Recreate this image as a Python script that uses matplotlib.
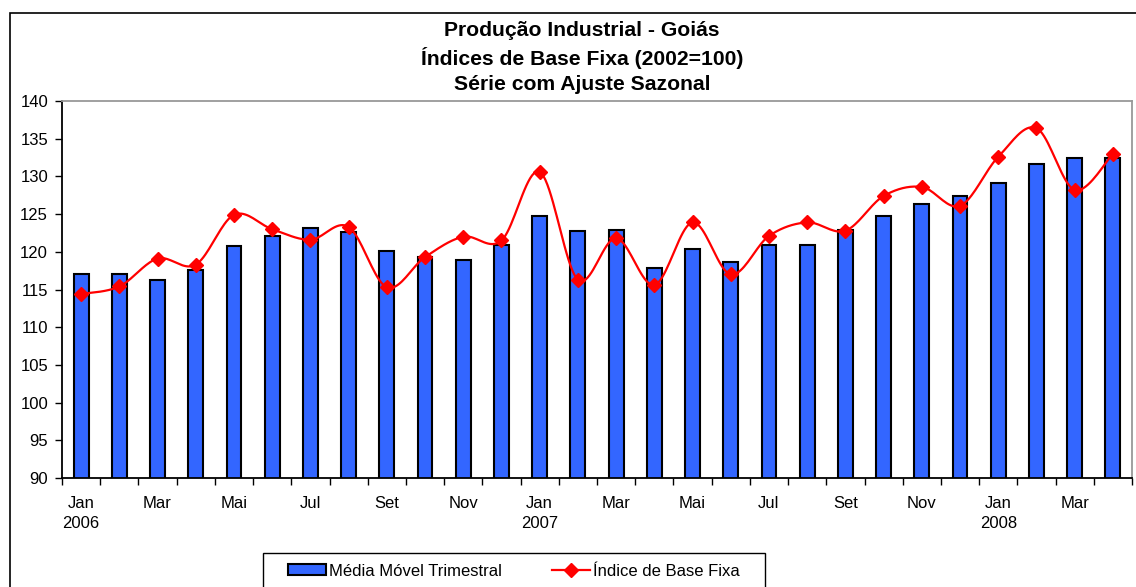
import numpy as np
import matplotlib
matplotlib.use("Agg")
import matplotlib.pyplot as plt
from matplotlib.patches import Rectangle
from matplotlib.lines import Line2D

plt.rcParams['font.family'] = ['Liberation Sans', 'DejaVu Sans']

months = ["Jan", "Fev", "Mar", "Abr", "Mai", "Jun", "Jul", "Ago", "Set", "Out", "Nov", "Dez"] * 2 + ["Jan", "Fev", "Mar", "Abr"]
years = ["2006"] * 12 + ["2007"] * 12 + ["2008"] * 4
media_movel = [117.0, 117.0, 116.3, 117.6, 120.8, 122.1, 123.2, 122.6, 120.1, 119.3, 118.9, 120.9,
               124.7, 122.8, 122.9, 117.9, 120.4, 118.7, 120.9, 120.9, 122.9, 124.7, 126.3, 127.4,
               129.1, 131.6, 132.4, 132.5]
indice = [114.4, 115.4, 119.1, 118.3, 124.9, 123.0, 121.6, 123.3, 115.3, 119.3, 122.0, 121.5,
          130.6, 116.3, 121.8, 115.6, 123.9, 117.0, 122.1, 123.9, 122.8, 127.4, 128.6, 126.1,
          132.6, 136.4, 128.2, 133.0]
yticks = list(range(90, 141, 5))

W, H = 1136, 587
fig = plt.figure(figsize=(W / 100, H / 100), dpi=100)
ax = fig.add_axes([62 / W, 1 - 478 / H, (1132 - 62) / W, (478 - 101) / H])

n = len(media_movel)
x = np.arange(n)
ax.bar(x, media_movel, width=0.39, color="#3366FF", edgecolor="black", linewidth=1.5, zorder=2)

# Smoothed line (Catmull-Rom through the data points)
def catmull_rom(px, py, steps=20):
    px = np.asarray(px, float); py = np.asarray(py, float)
    P = np.column_stack([px, py])
    P = np.vstack([P[0], P, P[-1]])
    out = []
    for i in range(1, len(P) - 2):
        p0, p1, p2, p3 = P[i - 1], P[i], P[i + 1], P[i + 2]
        t = np.linspace(0, 1, steps, endpoint=(i == len(P) - 3))[:, None]
        c = 0.5 * ((2 * p1) + (-p0 + p2) * t + (2 * p0 - 5 * p1 + 4 * p2 - p3) * t ** 2 +
                   (-p0 + 3 * p1 - 3 * p2 + p3) * t ** 3)
        out.append(c)
    out = np.vstack(out)
    return out[:, 0], out[:, 1]

sx, sy = catmull_rom(x, indice)
ax.plot(sx, sy, color="#FF0000", linewidth=1.6, zorder=3)
ax.plot(x, indice, linestyle="none", marker="D", markersize=7.5, color="#FF0000", zorder=4)

ax.set_xlim(-0.5, n - 0.5)
ax.set_ylim(90, 140)
ax.set_yticks(yticks)
ax.tick_params(axis="y", direction="out", length=5, width=1, labelsize=12, pad=5)

ax.set_xticks(np.arange(-0.5, n, 1.0))
ax.set_xticklabels([])
ax.tick_params(axis="x", which="major", direction="out", length=5, width=1)
labels = []
for i in range(n):
    if i % 2 == 0:
        lab = months[i]
        if months[i] == "Jan":
            lab += "\n" + years[i]
        labels.append(lab)
    else:
        labels.append("")
ax.set_xticks(x, minor=True)
ax.set_xticklabels(labels, minor=True, fontsize=12, linespacing=1.38, va="top")
ax.tick_params(axis="x", which="minor", length=0, pad=13)

for s in ["left", "bottom"]:
    ax.spines[s].set_color("black")
    ax.spines[s].set_linewidth(1.3)
for s in ["top", "right"]:
    ax.spines[s].set_color("#999999")
    ax.spines[s].set_linewidth(1.3)

# Title
for yy, txt in [(31, "Produção Industrial - Goiás"),
                (58, "Índices de Base Fixa (2002=100)"),
                (85, "Série com Ajuste Sazonal")]:
    fig.text(582 / W, 1 - yy / H, txt, ha="center", va="center", fontsize=15.2, fontweight="bold")

# Outer chart border
fig.patches.append(Rectangle((10 / W, -0.1), 1.2, 1 - 13 / H + 0.1, transform=fig.transFigure,
                             fill=False, edgecolor="black", linewidth=1.2))
# Legend box
fig.patches.append(Rectangle((263 / W, -0.1), (765 - 263) / W, 1 - 553 / H + 0.1,
                             transform=fig.transFigure, fill=False, edgecolor="black", linewidth=1.0))
h1 = Rectangle((0, 0), 1, 1, facecolor="#3366FF", edgecolor="black", linewidth=1.5)
h2 = Line2D([], [], color="#FF0000", linewidth=1.6, marker="D", markersize=7.5)
fig.legend([h1, h2], ["Média Móvel Trimestral", "Índice de Base Fixa"], ncol=2,
           loc="center", bbox_to_anchor=(514 / W, 1 - 571 / H), frameon=False,
           fontsize=12, handlelength=2.25, handletextpad=0.2, columnspacing=3.0,
           handleheight=0.65, borderpad=0.2)

fig.savefig("out.png", dpi=100)
